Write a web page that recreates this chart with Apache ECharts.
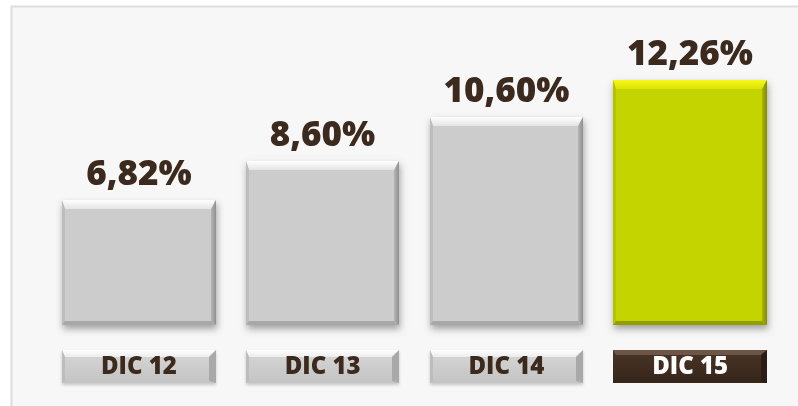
<!DOCTYPE html>
<html>
<head>
<meta charset="utf-8">
<script src="https://cdn.jsdelivr.net/npm/echarts@6/dist/echarts.min.js"></script>
<style>
html,body{margin:0;padding:0;background:#ffffff;}
#c{width:798px;height:406px;}
</style>
</head>
<body>
<div id="c"></div>
<script>
const categories = ['DIC 12', 'DIC 13', 'DIC 14', 'DIC 15'];
const values = [6.82, 8.60, 10.60, 12.26];
const highlightIndex = 3;

const textDark = '#3b2a1d';
const grayStyle = {
  face: '#cccccc',
  top: ['#ffffff', '#e4e4e4'],
  left: '#bdbdbd',
  right: ['#b5b5b5', '#8f8f8f'],
  bottom: '#a8a8a8'
};
const greenStyle = {
  face: '#c4d400',
  top: ['#f6f81e', '#dce300'],
  left: '#b5c300',
  right: ['#a7b300', '#838d00'],
  bottom: '#929d00'
};

function fmt(v) { return v.toFixed(2).replace('.', ',') + '%'; }

function bevelShapes(x0, y0, x1, y1, s, bt, bl, br, bb) {
  return [
    { type: 'rect', shape: { x: x0, y: y0, width: x1 - x0, height: y1 - y0 },
      style: { fill: s.face, shadowBlur: 7, shadowOffsetY: 4, shadowOffsetX: 1, shadowColor: 'rgba(0,0,0,0.35)' } },
    { type: 'polygon', shape: { points: [[x0, y0], [x1, y0], [x1 - br, y0 + bt], [x0 + bl, y0 + bt]] },
      style: { fill: new echarts.graphic.LinearGradient(0, 0, 0, 1, [{ offset: 0, color: s.top[0] }, { offset: 1, color: s.top[1] }]) } },
    { type: 'polygon', shape: { points: [[x0, y0], [x0 + bl, y0 + bt], [x0 + bl, y1 - bb], [x0, y1]] },
      style: { fill: s.left } },
    { type: 'polygon', shape: { points: [[x1, y0], [x1, y1], [x1 - br, y1 - bb], [x1 - br, y0 + bt]] },
      style: { fill: new echarts.graphic.LinearGradient(0, 0, 1, 0, [{ offset: 0, color: s.right[0] }, { offset: 1, color: s.right[1] }]) } },
    { type: 'polygon', shape: { points: [[x0, y1], [x0 + bl, y1 - bb], [x1 - br, y1 - bb], [x1, y1]] },
      style: { fill: s.bottom } }
  ];
}

const chart = echarts.init(document.getElementById('c'), null, { renderer: 'canvas' });
const yMin = 1.1;

chart.setOption({
  animation: false,
  backgroundColor: '#ffffff',
  graphic: [{
    type: 'rect', z: -10, silent: true,
    shape: { x: 11.5, y: 6.5, width: 800, height: 420 },
    style: { fill: '#f7f7f7', stroke: '#dddddd', lineWidth: 2 }
  }],
  grid: { left: 47, right: 16, top: 40, bottom: 81 },
  xAxis: {
    type: 'category',
    data: categories,
    z: 10,
    axisLine: { show: false },
    axisTick: { show: false },
    axisLabel: {
      margin: 42,
      verticalAlign: 'middle',
      fontFamily: 'Open Sans',
      fontWeight: 800,
      fontSize: 24,
      color: function (val, idx) { return idx === highlightIndex ? '#ffffff' : textDark; }
    }
  },
  yAxis: {
    type: 'value', min: yMin, max: 14.1, show: false, splitLine: { show: false }
  },
  series: [{
    type: 'custom',
    data: values.map((v, i) => [i, v]),
    clip: false,
    renderItem: function (params, api) {
      const i = api.value(0);
      const v = api.value(1);
      const topPt = api.coord([i, v]);
      const basePt = api.coord([i, yMin]);
      const band = api.size([1, 0])[0];
      const bw = band * 0.835;
      const x0 = Math.round(topPt[0] - bw / 2), x1 = Math.round(topPt[0] + bw / 2);
      const y0 = Math.round(topPt[1]), y1 = Math.round(basePt[1]);
      const hl = params.dataIndex === highlightIndex;
      const s = hl ? greenStyle : grayStyle;
      const children = bevelShapes(x0, y0, x1, y1, s, 9, 3, 5, 4);
      children.push({
        type: 'text',
        style: {
          text: fmt(v), x: (x0 + x1) / 2, y: y0 - 7,
          align: 'center', verticalAlign: 'bottom',
          font: '800 35px "Open Sans"', fill: textDark
        }
      });
      // category box under axis
      const by0 = y1 + 25, by1 = y1 + 58;
      if (hl) {
        children.push(
          { type: 'rect', shape: { x: x0, y: by0, width: x1 - x0, height: by1 - by0 },
            style: { fill: new echarts.graphic.LinearGradient(0, 0, 0, 1, [{ offset: 0, color: '#4a3526' }, { offset: 1, color: '#35251a' }]) } },
          { type: 'polygon', shape: { points: [[x0, by0], [x1, by0], [x1 - 6, by0 + 5], [x0 + 3, by0 + 5]] },
            style: { fill: '#6e5646' } },
          { type: 'polygon', shape: { points: [[x1, by0], [x1, by1], [x1 - 6, by1 - 2], [x1 - 6, by0 + 5]] },
            style: { fill: '#2a1d13' } }
        );
      } else {
        children.push(
          { type: 'rect', shape: { x: x0, y: by0, width: x1 - x0, height: by1 - by0 },
            style: { fill: new echarts.graphic.LinearGradient(0, 0, 0, 1, [{ offset: 0, color: '#d6d6d6' }, { offset: 1, color: '#c4c4c4' }]),
              shadowBlur: 3, shadowOffsetY: 2, shadowColor: 'rgba(0,0,0,0.2)' } },
          { type: 'polygon', shape: { points: [[x0, by0], [x1, by0], [x1 - 7, by0 + 7], [x0 + 3, by0 + 7]] },
            style: { fill: new echarts.graphic.LinearGradient(0, 0, 0, 1, [{ offset: 0, color: '#ffffff' }, { offset: 1, color: '#ececec' }]) } },
          { type: 'polygon', shape: { points: [[x0, by0], [x0 + 3, by0 + 7], [x0 + 3, by1 - 2], [x0, by1]] },
            style: { fill: '#bdbdbd' } },
          { type: 'polygon', shape: { points: [[x1, by0], [x1, by1], [x1 - 7, by1 - 2], [x1 - 7, by0 + 7]] },
            style: { fill: '#a9a9a9' } }
        );
      }
      return { type: 'group', children: children };
    }
  }]
});
</script>
</body>
</html>
